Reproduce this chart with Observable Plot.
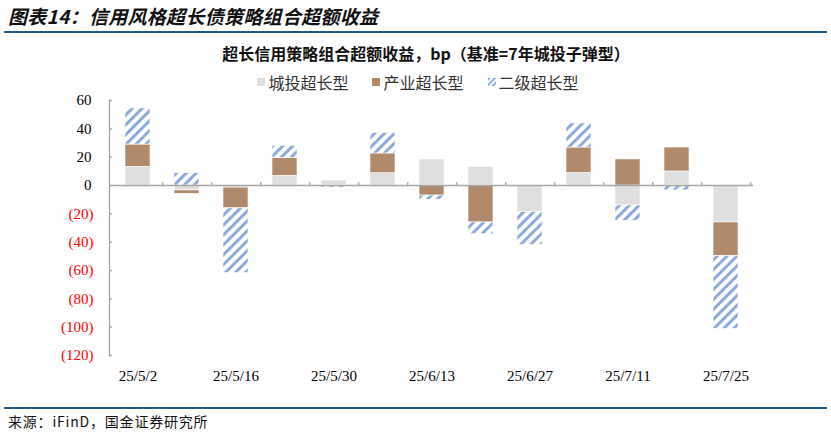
<!DOCTYPE html>
<html>
<head>
<meta charset="utf-8">
<script src="https://cdn.jsdelivr.net/npm/d3@7"></script>
<script src="https://cdn.jsdelivr.net/npm/@observablehq/plot@0.6"></script>
<style>
  html, body { margin: 0; padding: 0; background: #fff; }
  body { width: 831px; height: 436px; position: relative; overflow: hidden; font-family: "Noto Sans CJK SC", sans-serif; }
  .abs { position: absolute; }
  #title { left: 8px; top: 2px; font-size: 19px; font-weight: bold; font-style: italic; color: #111; white-space: nowrap; letter-spacing: 0.3px; }
  .rule { left: 4px; width: 823px; height: 2px; background: #255d88; }
  #ctitle { left: 0; width: 852px; top: 41px; text-align: center; font-size: 16px; font-weight: bold; color: #111; white-space: nowrap; }
  #legend { left: 0; width: 836px; top: 70px; display: flex; justify-content: center; align-items: center; font-size: 16px; color: #333; white-space: nowrap; }
  .item { display: flex; align-items: center; margin: 0 12px; }
  .sw { width: 8px; height: 8px; margin-right: 3px; }
  #chart { left: 0; top: 90px; }
  #caption { left: 8px; top: 411px; font-size: 14px; letter-spacing: 0.8px; color: #111; white-space: nowrap; }
</style>
</head>
<body>
<div id="title" class="abs">图表14：信用风格超长债策略组合超额收益</div>
<div class="abs rule" style="top:31px"></div>
<div id="ctitle" class="abs">超长信用策略组合超额收益，bp（基准=7年城投子弹型）</div>
<div id="legend" class="abs"></div>
<div id="chart" class="abs"></div>
<div class="abs rule" style="top:407px"></div>
<div id="caption" class="abs">来源：iFinD，国金证券研究所</div>
<script>
const dates = ["25/5/2","25/5/9","25/5/16","25/5/23","25/5/30","25/6/6","25/6/13","25/6/20","25/6/27","25/7/4","25/7/11","25/7/18","25/7/25"];
const seriesNames = ["城投超长型","产业超长型","二级超长型"];
const chengtou = [13.2, -3.5, -1.5, 6.8, 3.5, 8.7, 18.4, 13.2, -18.6, 8.9, -14.1, 9.9, -26.1];
const chanye   = [15.7, -2.4, -14.6, 12.7, -0.3, 13.9, -7.1, -26.1, 0, 17.9, 18.4, 16.9, -23.8];
const erji     = [25.5, 8.7, -45.7, 8.5, -1.2, 14.6, -3.0, -8.3, -23.3, 17.0, -10.8, -3.5, -51.3];
const yTicks = [-120, -100, -80, -60, -40, -20, 0, 20, 40, 60];
const xTickLabels = ["25/5/2","25/5/16","25/5/30","25/6/13","25/6/27","25/7/11","25/7/25"];
const colors = ["#dfdfdf", "#b08a6b", "url(#hatch)"];

const seriesValues = [chengtou, chanye, erji];
const rows = [];
dates.forEach((d, i) => seriesNames.forEach((s, j) => rows.push({date: d, series: s, value: seriesValues[j][i]})));

const W = 831, H = 300, ML = 109, MR = 78, MT = 10, MB = 35;
const step = (W - ML - MR) / dates.length;
const fmt = d => d < 0 ? `(${-d})` : `${d}`;
const serif = "'Liberation Serif', 'Times New Roman', serif";

const chart = Plot.plot({
  width: W, height: H,
  marginLeft: ML, marginRight: MR, marginTop: MT, marginBottom: MB,
  x: {domain: dates, paddingInner: 0.49, paddingOuter: 0.245, axis: null, label: null},
  y: {domain: [-120, 60], axis: null, label: null},
  color: {domain: seriesNames, range: colors},
  marks: [
    Plot.barY(rows, Plot.stackY({x: "date", y: "value", fill: "series", stroke: "#fff", strokeWidth: 0.6})),
    Plot.ruleY([0], {stroke: "#a6a6a6", strokeWidth: 1.3}),
    Plot.ruleX(dates, {x: d => d, y1: 0, y2: 2.2, dx: step / 2, stroke: "#a6a6a6", strokeWidth: 1.3}),
    Plot.frame({anchor: "left", stroke: "#a6a6a6", strokeWidth: 1.3}),
    Plot.ruleY(yTicks, {y: d => d, insetRight: W - ML - MR - 3, stroke: "#a6a6a6", strokeWidth: 1.3}),
    Plot.axisY({ticks: yTicks.filter(d => d >= 0), label: null, tickSize: 0, tickPadding: 18, tickFormat: fmt, fill: "#000", fontSize: 15, fontFamily: serif}),
    Plot.axisY({ticks: yTicks.filter(d => d < 0), label: null, tickSize: 0, tickPadding: 16, tickFormat: fmt, fill: "#ff0000", fontSize: 15, fontFamily: serif}),
    Plot.axisX({ticks: xTickLabels, label: null, tickSize: 0, tickPadding: 15, fill: "#000", fontSize: 15, fontFamily: serif})
  ]
});
chart.insertAdjacentHTML("afterbegin",
  `<defs><pattern id="hatch" patternUnits="userSpaceOnUse" width="7" height="7" patternTransform="rotate(45)">
     <rect width="7" height="7" fill="#fff"/><rect width="3" height="7" fill="#8eaadc"/>
   </pattern></defs>`);
document.getElementById("chart").appendChild(chart);

const legend = document.getElementById("legend");
seriesNames.forEach((s, j) => {
  const item = document.createElement("div");
  item.className = "item";
  const sw = j === 2
    ? `<svg class="sw" width="8" height="8"><defs><pattern id="hatchL" patternUnits="userSpaceOnUse" width="4" height="4" patternTransform="rotate(45)"><rect width="4" height="4" fill="#fff"/><rect width="2" height="4" fill="#8eaadc"/></pattern></defs><rect width="8" height="8" fill="url(#hatchL)"/></svg>`
    : `<div class="sw" style="background:${colors[j]}"></div>`;
  item.innerHTML = sw + `<span>${s}</span>`;
  legend.appendChild(item);
});
</script>
</body>
</html>
